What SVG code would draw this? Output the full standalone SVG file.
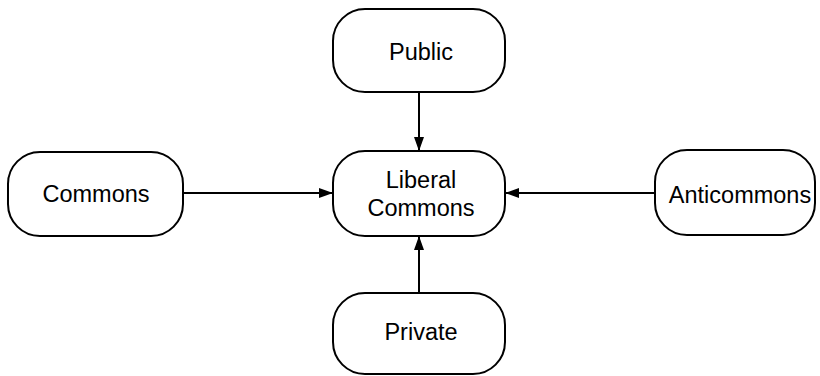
<svg xmlns="http://www.w3.org/2000/svg" width="820" height="376" viewBox="0 0 820 376">
<defs>
<style>
.box{fill:#fff;stroke:#000;stroke-width:2}
.lbl{font-family:"Liberation Sans",Arial,sans-serif;font-size:23.5px;fill:#000;text-anchor:middle}
.con{stroke:#000;stroke-width:2;fill:none}
</style>
<marker id="ah" viewBox="0 0 10 10" refX="10" refY="5" markerWidth="14" markerHeight="10" markerUnits="userSpaceOnUse" orient="auto" preserveAspectRatio="none"><path d="M0,0 L10,5 L0,10 z" fill="#000"/></marker>
</defs>
<rect width="820" height="376" fill="#fff"/>
<g id="connectors">
<line class="con" x1="419" y1="92" x2="419" y2="151" marker-end="url(#ah)"/>
<line class="con" x1="183" y1="193" x2="333" y2="193" marker-end="url(#ah)"/>
<line class="con" x1="655" y1="193" x2="505" y2="193" marker-end="url(#ah)"/>
<line class="con" x1="419" y1="293" x2="419" y2="236" marker-end="url(#ah)"/>
</g>
<g id="public"><rect class="box" x="333" y="9" width="172" height="83" rx="32"/><text class="lbl" x="421" y="60">Public</text></g>
<g id="commons"><rect class="box" x="8" y="152" width="175" height="84" rx="32"/><text class="lbl" x="96" y="202">Commons</text></g>
<g id="liberal"><rect class="box" x="333" y="151" width="172" height="85" rx="32"/><text class="lbl" x="421" y="188">Liberal</text><text class="lbl" x="421" y="216">Commons</text></g>
<g id="anticommons"><rect class="box" x="655" y="150" width="160" height="85" rx="32"/><text class="lbl" x="740" y="203">Anticommons</text></g>
<g id="private"><rect class="box" x="333" y="293" width="172" height="81" rx="32"/><text class="lbl" x="421" y="340">Private</text></g>
</svg>
